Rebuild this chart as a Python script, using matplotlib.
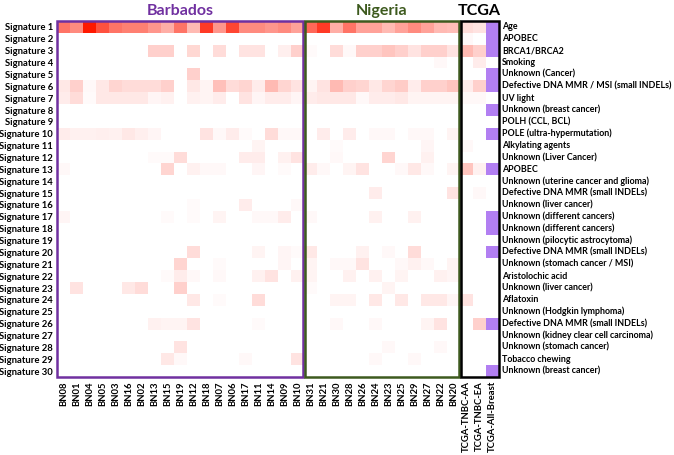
import numpy as np
import matplotlib
matplotlib.use("Agg")
import matplotlib.pyplot as plt
from matplotlib.colors import LinearSegmentedColormap, ListedColormap
from matplotlib.patches import Rectangle

barbados_samples = ["BN08", "BN01", "BN04", "BN05", "BN03", "BN16", "BN02", "BN13", "BN15", "BN19",
                    "BN12", "BN18", "BN07", "BN06", "BN17", "BN11", "BN14", "BN09", "BN10"]
nigeria_samples = ["BN31", "BN21", "BN30", "BN28", "BN26", "BN24", "BN23", "BN25", "BN29", "BN27",
                   "BN22", "BN20"]
tcga_samples = ["TCGA-TNBC-AA", "TCGA-TNBC-EA", "TCGA-All-Breast"]

signatures = [f"Signature {i}" for i in range(1, 31)]
etiology = ["Age", "APOBEC", "BRCA1/BRCA2", "Smoking", "Unknown (Cancer)",
            "Defective DNA MMR / MSI (small INDELs)", "UV light", "Unknown (breast cancer)",
            "POLH (CCL, BCL)", "POLE (ultra-hypermutation)", "Alkylating agents",
            "Unknown (Liver Cancer)", "APOBEC", "Unknown (uterine cancer and glioma)",
            "Defective DNA MMR (small INDELs)", "Unknown (liver cancer)",
            "Unknown (different cancers)", "Unknown (different cancers)",
            "Unknown (pilocytic astrocytoma)", "Defective DNA MMR (small INDELs)",
            "Unknown (stomach cancer / MSI)", "Aristolochic acid", "Unknown (liver cancer)",
            "Aflatoxin", "Unknown (Hodgkin lymphoma)", "Defective DNA MMR (small INDELs)",
            "Unknown (kidney clear cell carcinoma)", "Unknown (stomach cancer)",
            "Tobacco chewing", "Unknown (breast cancer)"]

# signature contributions, one row per signature
barbados = [
    [.60, .50, 1.0, .75, .60, .55, .55, .45, .35, .60, .30, .85, .45, .80, .50, .50, .45, .50, .40],
    [0, 0, 0, 0, 0, 0, 0, 0, 0, 0, 0, 0, 0, 0, 0, 0, 0, 0, 0],
    [0, 0, 0, 0, 0, 0, 0, .20, .20, 0, .17, 0, .15, 0, .12, .12, 0, .07, .20],
    [0, 0, 0, 0, 0, 0, 0, 0, 0, 0, 0, 0, 0, 0, 0, 0, 0, 0, 0],
    [0, 0, 0, 0, 0, 0, 0, 0, 0, 0, .20, 0, 0, 0, 0, 0, 0, 0, 0],
    [.10, .20, .03, .10, .18, .15, .15, .15, .20, 0, .10, .05, .27, .15, .18, .08, .30, .18, .12],
    [.08, .15, .02, .10, .10, .10, .10, .04, .06, 0, .06, .05, .08, 0, .12, .04, .08, .08, .04],
    [0, 0, 0, 0, 0, 0, 0, 0, 0, 0, 0, 0, 0, 0, 0, 0, 0, 0, 0],
    [0, 0, 0, 0, 0, 0, 0, 0, 0, 0, 0, 0, 0, 0, 0, 0, 0, 0, 0],
    [.08, .06, .06, .07, .06, .10, .07, .04, 0, 0, 0, .12, .03, .08, .02, 0, .15, .03, .03],
    [0, 0, 0, 0, 0, 0, 0, 0, 0, 0, 0, 0, 0, 0, 0, .05, 0, 0, 0],
    [0, 0, 0, 0, 0, 0, 0, .02, .02, .15, 0, 0, 0, 0, .08, .08, 0, .06, .12],
    [.03, 0, 0, 0, 0, 0, 0, 0, .18, 0, .06, .03, .03, 0, 0, .04, 0, .02, 0],
    [0, 0, 0, 0, 0, 0, 0, 0, 0, 0, 0, 0, 0, 0, 0, 0, 0, 0, 0],
    [0, 0, 0, 0, 0, 0, 0, 0, 0, 0, 0, 0, 0, 0, 0, 0, 0, 0, 0],
    [0, 0, 0, 0, 0, 0, 0, 0, 0, 0, .02, 0, 0, 0, .08, 0, 0, 0, .03],
    [.04, 0, 0, 0, 0, 0, 0, 0, .02, 0, .02, 0, .05, 0, 0, .03, .03, .08, 0],
    [0, 0, 0, 0, 0, 0, 0, 0, 0, 0, 0, 0, 0, 0, 0, 0, 0, 0, 0],
    [0, 0, 0, 0, 0, 0, 0, 0, 0, 0, 0, 0, 0, 0, 0, 0, 0, 0, 0],
    [0, 0, 0, 0, 0, 0, 0, 0, 0, 0, .15, 0, 0, 0, 0, .05, 0, .04, .02],
    [0, 0, 0, 0, 0, 0, 0, 0, 0, .18, 0, 0, .02, 0, 0, 0, 0, .04, 0],
    [0, 0, 0, 0, 0, 0, 0, 0, .02, .08, .03, 0, .03, 0, 0, .06, .12, 0, .06],
    [0, .12, 0, 0, 0, .10, .15, 0, 0, .20, 0, 0, 0, 0, 0, 0, 0, 0, 0],
    [0, 0, 0, 0, 0, 0, 0, 0, 0, 0, .10, 0, .02, 0, 0, .15, 0, 0, 0],
    [0, 0, 0, 0, 0, 0, 0, 0, 0, 0, 0, 0, 0, 0, 0, 0, 0, 0, 0],
    [0, 0, 0, 0, 0, 0, 0, .06, .05, .05, .12, 0, 0, 0, 0, .02, 0, 0, 0],
    [0, 0, 0, 0, 0, 0, 0, 0, 0, 0, 0, 0, 0, 0, 0, 0, 0, 0, 0],
    [0, 0, 0, 0, 0, 0, 0, 0, 0, .12, 0, 0, 0, 0, 0, 0, 0, 0, 0],
    [0, 0, 0, 0, 0, 0, 0, 0, .10, .03, 0, 0, 0, 0, .03, 0, 0, 0, .12],
    [0, 0, 0, 0, 0, 0, 0, 0, 0, 0, 0, 0, 0, 0, 0, 0, 0, 0, 0],
]

nigeria = [
    [.65, .85, .35, .60, .40, .40, .30, .40, .50, .40, .30, .28],
    [0, 0, 0, 0, 0, 0, 0, 0, 0, 0, 0, 0],
    [.02, 0, .15, .03, .20, .20, .25, .20, .12, .20, .20, .12],
    [0, 0, 0, 0, 0, 0, 0, 0, 0, 0, .03, 0],
    [0, 0, 0, 0, 0, 0, 0, 0, 0, 0, 0, 0],
    [.05, .12, .30, .20, .18, .10, .18, .22, .08, .20, .20, .25],
    [.08, .10, .10, .10, .03, .08, .08, .10, .05, .05, .05, .05],
    [0, 0, 0, 0, 0, 0, 0, 0, 0, 0, 0, 0],
    [0, 0, 0, 0, 0, 0, 0, 0, 0, 0, 0, 0],
    [0, .08, 0, .08, 0, .03, .03, 0, .03, .03, 0, .05],
    [0, 0, .02, 0, 0, 0, 0, 0, 0, .04, 0, 0],
    [0, 0, .03, 0, 0, 0, .18, 0, 0, .06, 0, 0],
    [.08, .03, 0, .05, .12, 0, 0, .03, .10, .03, 0, .05],
    [0, 0, 0, 0, 0, 0, 0, 0, 0, 0, 0, 0],
    [0, 0, 0, 0, 0, .08, 0, 0, 0, 0, 0, .12],
    [0, 0, 0, 0, 0, 0, 0, 0, 0, 0, 0, 0],
    [.03, 0, 0, 0, 0, .06, 0, 0, .06, 0, 0, 0],
    [0, 0, 0, 0, 0, 0, 0, 0, 0, 0, 0, 0],
    [0, 0, 0, 0, 0, 0, 0, 0, 0, 0, 0, 0],
    [.10, 0, 0, 0, .06, 0, .03, 0, .15, 0, 0, 0],
    [.05, 0, .03, .03, .12, 0, 0, .03, .06, .03, 0, .05],
    [.05, 0, 0, .06, 0, .06, 0, .05, 0, 0, .06, .04],
    [.02, 0, 0, 0, 0, 0, .05, 0, 0, 0, 0, 0],
    [0, 0, .05, .05, 0, .10, 0, .10, 0, .10, .10, .04],
    [0, 0, 0, 0, 0, 0, 0, 0, 0, 0, 0, 0],
    [0, 0, .03, 0, 0, .03, 0, 0, 0, .05, .12, 0],
    [0, 0, 0, 0, 0, 0, 0, 0, 0, 0, 0, 0],
    [0, 0, 0, 0, 0, 0, .03, 0, 0, 0, .03, 0],
    [0, 0, 0, 0, 0, .03, 0, 0, .03, 0, 0, 0],
    [0, 0, 0, 0, 0, 0, 0, 0, 0, 0, 0, 0],
]

tcga_aa = [.15, .03, .30, 0, 0, .08, .03, 0, 0, 0, .03, 0, .25, 0, 0,
           0, 0, 0, 0, 0, 0, 0, 0, .12, 0, 0, 0, 0, 0, 0]
tcga_ea = [.12, 0, .20, .08, 0, .20, .03, 0, 0, 0, 0, 0, .06, 0, .03,
           0, 0, 0, 0, 0, 0, 0, 0, 0, 0, .20, 0, 0, 0, 0]
# signatures reported in all TCGA breast cancers
tcga_all = [1, 1, 1, 0, 1, 1, 0, 1, 0, 1, 0, 0, 1, 0, 0,
            0, 1, 1, 0, 1, 0, 0, 0, 0, 0, 1, 0, 0, 0, 1]

heat = np.column_stack([np.array(barbados), np.array(nigeria), tcga_aa, tcga_ea,
                        np.full(30, np.nan)])
flags = np.full(heat.shape, np.nan)
flags[:, -1] = np.where(np.array(tcga_all) == 1, 1.0, np.nan)

plt.rcParams['font.family'] = ['Lato', 'DejaVu Sans']
plt.rcParams['font.weight'] = 'bold'

reds = LinearSegmentedColormap.from_list("wr", ["#ffffff", "#ff1800"])
fig = plt.figure(figsize=(6.74, 4.55), dpi=100)
ax = fig.add_axes([57 / 674, 78 / 455, 442 / 674, 356 / 455])
ax.imshow(heat, cmap=reds, vmin=0, vmax=1, aspect='auto', interpolation='nearest')
ax.imshow(flags, cmap=ListedColormap(["#b27ff2"]), vmin=0, vmax=1, aspect='auto',
          interpolation='nearest')

nb, nn = len(barbados_samples), len(nigeria_samples)
off = 0.08
ax.add_patch(Rectangle((-0.5, -0.5), nb - off, 30, fill=False, ec="#7030a0", lw=1.8, clip_on=False))
ax.add_patch(Rectangle((nb - 0.5 + off, -0.5), nn - 2 * off, 30, fill=False, ec="#3d5a1e", lw=1.8,
                       clip_on=False))
ax.add_patch(Rectangle((nb + nn - 0.5 + off, -0.5), 3 - off, 30, fill=False, ec="black", lw=1.8,
                       clip_on=False))

ax.text((nb - 1) / 2, -1.35, "Barbados", ha="center", va="center", color="#7030a0", fontsize=11.5)
ax.text(nb + (nn - 1) / 2, -1.35, "Nigeria", ha="center", va="center", color="#3d5a1e", fontsize=11.5)
ax.text(nb + nn + 1, -1.35, "TCGA", ha="center", va="center", color="black", fontsize=11.5)

for i, lab in enumerate(etiology):
    ax.text(33.75, i, lab, ha="left", va="center", fontsize=6.4)

ax.set_xticks(range(heat.shape[1]))
ax.set_xticklabels(barbados_samples + nigeria_samples + tcga_samples, rotation=90, fontsize=6.8)
ax.set_yticks(range(30))
ax.set_yticklabels(signatures, fontsize=6.8)
ax.tick_params(length=0, pad=3)
for s in ax.spines.values():
    s.set_visible(False)

plt.savefig("out.png", dpi=100)
